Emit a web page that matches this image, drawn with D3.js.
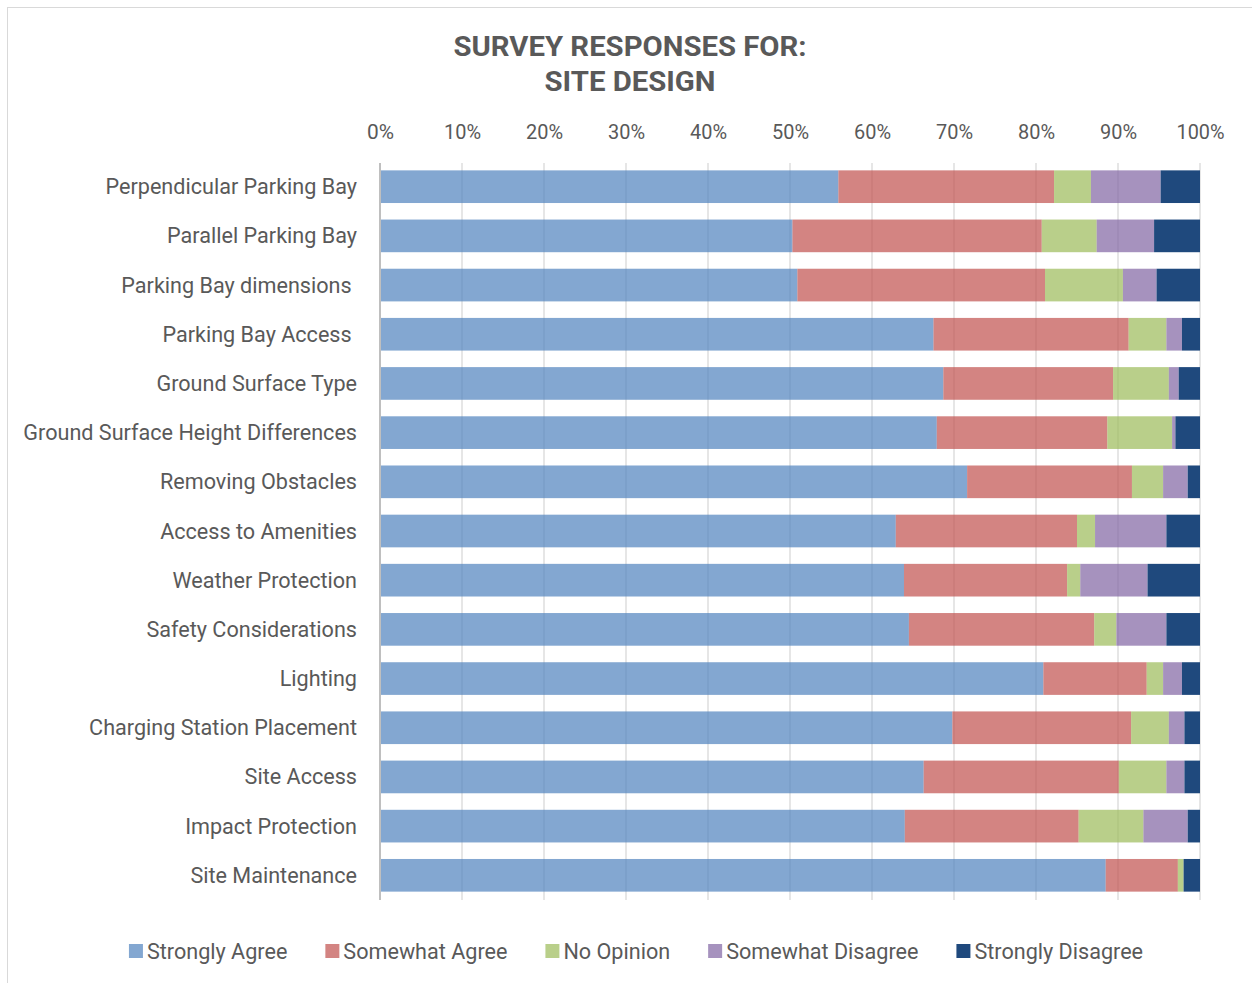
<!DOCTYPE html>
<html>
<head>
<meta charset="utf-8">
<script src="https://cdn.jsdelivr.net/npm/d3@7"></script>
<style>
  body { margin: 0; background: #ffffff; }
  svg { display: block; font-family: Roboto, "Open Sans", sans-serif; }
</style>
</head>
<body>
<div id="chart"></div>
<script>
// categories (top to bottom), trailing spaces as in the original labels
const categories = [
    "Perpendicular Parking Bay",
    "Parallel Parking Bay",
    "Parking Bay dimensions ",
    "Parking Bay Access ",
    "Ground Surface Type",
    "Ground Surface Height Differences",
    "Removing Obstacles",
    "Access to Amenities",
    "Weather Protection",
    "Safety Considerations",
    "Lighting",
    "Charging Station Placement",
    "Site Access",
    "Impact Protection",
    "Site Maintenance"
];

const seriesNames = ["Strongly Agree", "Somewhat Agree", "No Opinion", "Somewhat Disagree", "Strongly Disagree"];

// percentages
const stronglyAgree    = [55.9, 50.3, 50.9, 67.5, 68.7, 67.9, 71.6, 62.9, 63.9, 64.5, 80.9, 69.8, 66.3, 64.0, 88.5];
const somewhatAgree    = [26.3, 30.4, 30.2, 23.8, 20.7, 20.8, 20.1, 22.1, 19.9, 22.6, 12.6, 21.8, 23.8, 21.2,  8.8];
const noOpinion        = [ 4.5,  6.7,  9.5,  4.6,  6.8,  7.9,  3.8,  2.2,  1.6,  2.7,  2.0,  4.6,  5.8,  7.9,  0.7];
const somewhatDisagree = [ 8.5,  7.0,  4.1,  1.9,  1.2,  0.4,  3.0,  8.7,  8.2,  6.1,  2.3,  1.9,  2.2,  5.4,  0.0];
const stronglyDisagree = [ 4.8,  5.6,  5.3,  2.2,  2.6,  3.0,  1.5,  4.1,  6.4,  4.1,  2.2,  1.9,  1.9,  1.5,  2.0];

const tickValues = [0, 10, 20, 30, 40, 50, 60, 70, 80, 90, 100];

const colors = ["#4f81bd", "#c0504d", "#9bbb59", "#8064a2", "#1f497d"];
const opacities = [0.7, 0.7, 0.7, 0.7, 1];

const width = 1252, height = 983;
const textColor = "#595959";
const labelSize = 21.6;

const svg = d3.select("#chart").append("svg")
    .attr("width", width)
    .attr("height", height);

// frame
svg.append("rect")
    .attr("x", 7.5).attr("y", 7.5)
    .attr("width", 1260).attr("height", 1000)
    .attr("fill", "none")
    .attr("stroke", "#d9d9d9");

// title
svg.append("text")
    .attr("x", 630).attr("y", 56)
    .attr("text-anchor", "middle")
    .attr("font-size", 28).attr("font-weight", 700)
    .attr("fill", textColor)
    .attr("textLength", 353).attr("lengthAdjust", "spacingAndGlyphs")
    .text("SURVEY RESPONSES FOR:");
svg.append("text")
    .attr("x", 630).attr("y", 91)
    .attr("text-anchor", "middle")
    .attr("font-size", 28).attr("font-weight", 700)
    .attr("fill", textColor)
    .attr("textLength", 171).attr("lengthAdjust", "spacingAndGlyphs")
    .text("SITE DESIGN");

// scales
const x = d3.scaleLinear().domain([0, 100]).range([380, 1200]);
const y = d3.scaleBand().domain(categories).range([162, 900])
    .paddingInner(0.336).paddingOuter(0.17);

// gridlines
svg.append("g")
    .selectAll("line")
    .data(tickValues.filter(d => d > 0))
    .enter()
    .append("line")
    .attr("x1", d => x(d)).attr("x2", d => x(d))
    .attr("y1", 163).attr("y2", 900)
    .attr("stroke", "#dedede")
    .attr("stroke-width", 1.5);

// top axis labels
const axis = svg.append("g")
    .attr("transform", "translate(0,139)")
    .call(d3.axisTop(x).tickValues(tickValues).tickSize(0).tickFormat(d => d + "%"));
axis.select(".domain").remove();
axis.selectAll("text")
    .attr("y", 0).attr("dy", 0)
    .attr("font-size", 20)
    .attr("font-family", "Roboto, sans-serif")
    .attr("fill", textColor)
    .attr("textLength", d => d === 100 ? 48 : (d === 0 ? 27 : 37))
    .attr("lengthAdjust", "spacingAndGlyphs");

// stacked data
const table = categories.map((c, i) => ({
    category: c,
    "Strongly Agree": stronglyAgree[i],
    "Somewhat Agree": somewhatAgree[i],
    "No Opinion": noOpinion[i],
    "Somewhat Disagree": somewhatDisagree[i],
    "Strongly Disagree": stronglyDisagree[i]
}));
const stacked = d3.stack().keys(seriesNames)(table);

svg.append("g")
    .selectAll("g")
    .data(stacked)
    .enter()
    .append("g")
    .attr("fill", (d, i) => colors[i])
    .attr("fill-opacity", (d, i) => opacities[i])
    .selectAll("rect")
    .data(d => d)
    .enter()
    .append("rect")
    .attr("x", d => x(d[0]))
    .attr("width", d => x(d[1]) - x(d[0]))
    .attr("y", d => y(d.data.category))
    .attr("height", y.bandwidth());

// zero axis line
svg.append("line")
    .attr("x1", 380).attr("x2", 380)
    .attr("y1", 163).attr("y2", 900)
    .attr("stroke", "#bfbfbf")
    .attr("stroke-width", 2);

// category labels
svg.append("g")
    .selectAll("text")
    .data(categories)
    .enter()
    .append("text")
    .attr("x", 357)
    .attr("y", d => y(d) + y.bandwidth() / 2)
    .attr("dy", "0.35em")
    .attr("text-anchor", "end")
    .attr("font-size", labelSize)
    .attr("fill", textColor)
    .style("white-space", "pre")
    .text(d => d);

// legend
const legend = svg.append("g").attr("transform", "translate(0,951)");
const items = legend.selectAll("g")
    .data(seriesNames)
    .enter()
    .append("g");
items.append("rect")
    .attr("y", -7).attr("width", 14).attr("height", 14)
    .attr("fill", (d, i) => colors[i])
    .attr("fill-opacity", (d, i) => opacities[i]);
items.append("text")
    .attr("x", 18).attr("dy", "0.35em")
    .attr("font-size", labelSize)
    .attr("fill", textColor)
    .text(d => d);

let widths = [];
items.each(function () { widths.push(this.getBBox().width); });
const gap = 38;
const total = d3.sum(widths) + gap * (widths.length - 1);
let cx = 636 - total / 2;
items.attr("transform", (d, i) => {
    const t = `translate(${cx},0)`;
    cx += widths[i] + gap;
    return t;
});
</script>
</body>
</html>
